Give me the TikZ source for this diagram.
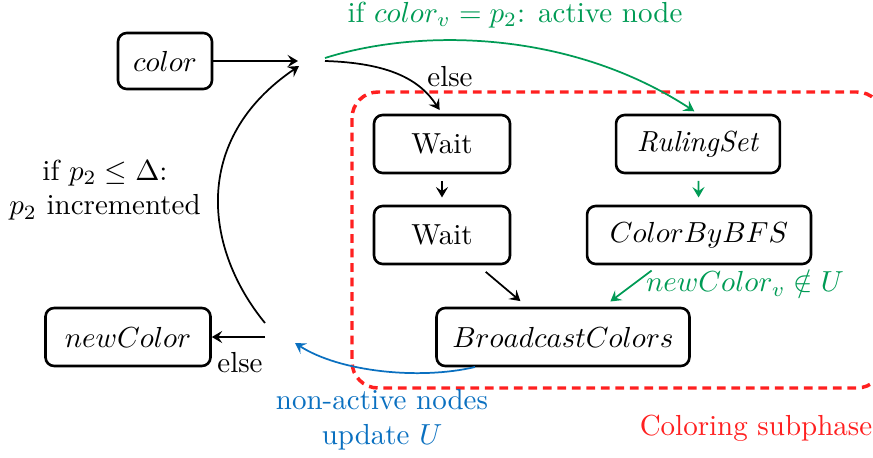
\documentclass[tikz,border=0pt]{standalone}
\usetikzlibrary{arrows.meta}
\definecolor{cgreen}{HTML}{009B55}
\definecolor{cblue}{HTML}{0A70C0}
\definecolor{cred}{HTML}{FF2020}
\begin{document}
\begin{tikzpicture}[x=0.3448pt,y=-0.3448pt,
  box/.style={draw,rounded corners=3pt,line width=0.9pt,minimum height=20pt,inner sep=2pt},
  conn/.style={semithick,-{Stealth[length=3.6pt,width=4.2pt,inset=1.4pt]}},
  lbl/.style={inner sep=0pt,align=center}]
\useasboundingbox (0,0) rectangle (873,458);

% region
\draw[cred,line width=1.2pt,dash pattern=on 3pt off 2pt,rounded corners=9pt]
  (352,92) rectangle (883,388);
\node[lbl,text=cred] (cs) at (756,428) {Coloring subphase};

% boxes
\node[box,minimum width=32.4pt,minimum height=19.3pt] (color) at (165,61) {$color$};
\node[box,minimum width=46.9pt] (w1) at (442,144) {Wait};
\node[box,minimum width=46.9pt] (w2) at (442,235) {Wait};
\node[box,minimum width=56.5pt] (rs) at (698,144) {\textit{RulingSet}};
\node[box,minimum width=77.2pt] (cb) at (699,235) {$ColorByBFS$};
\node[box,minimum width=87.2pt] (bc) at (563,337) {$BroadcastColors$};
\node[box,minimum width=56.9pt] (nc) at (128,337) {$newColor$};

% junction coordinates
\coordinate (jin) at (298,61);
\coordinate (jin2) at (299,66);
\coordinate (jout) at (325,61);
\coordinate (jout2) at (325,58);
\coordinate (jb) at (265,323);
\coordinate (jc) at (265,337);
\coordinate (jd) at (295,343);
\coordinate (bcs) at (475,367);

% connectors
\draw[conn] (color) -- (jin);
\draw[conn,shorten >=1.5pt] (jout) .. controls (390,63) and (420,80) .. (w1.north);
\node[lbl] (else1) at (450,77) {else};
\draw[conn,cgreen,shorten >=1.5pt] (jout2) .. controls (420,28) and (570,30) .. (rs.north);
\node[lbl,text=cgreen] (act) at (515,15) {if $color_v = p_2$: active node};

\draw[conn] (jb) .. controls (205,250) and (190,140) .. (jin2);
\node[lbl] (inc) at (105,190) {if $p_2 \le \Delta$:\\$p_2$ incremented};
\draw[conn] (jc) -- (nc);
\node[lbl] (else2) at (240,363) {else};

\draw[conn,cblue] (bcs) .. controls (420,380) and (340,372) .. (jd);
\node[lbl,text=cblue] (upd) at (382,420) {non-active nodes\\update $U$};

\draw[conn,shorten <=2.3pt,shorten >=2.5pt] (w1) -- (w2);
\draw[conn,cgreen,shorten <=2.3pt,shorten >=2.5pt] (rs) -- (cb);
\draw[conn,shorten <=3.5pt,shorten >=3pt] (w2) -- (bc);
\draw[conn,cgreen,shorten <=3pt,shorten >=3pt] (cb) -- (bc);
\node[lbl,text=cgreen] (nu) at (745,283) {$newColor_v \notin U$};
\end{tikzpicture}
\end{document}
